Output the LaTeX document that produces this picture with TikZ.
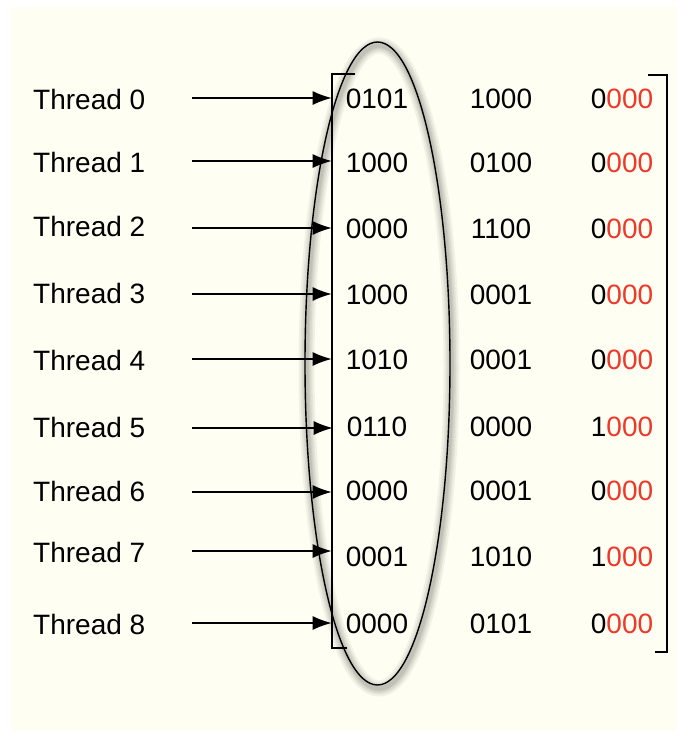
\documentclass[tikz,border=0pt]{standalone}
\usepackage{fontspec}
\setmainfont{Liberation Sans}
\usetikzlibrary{arrows.meta}
\definecolor{paper}{RGB}{254,254,242}
\definecolor{lowbits}{RGB}{238,56,42}
\begin{document}
\begin{tikzpicture}[
      x=1pt,y=-1pt,
      label/.style={anchor=west,inner sep=0pt,font=\fontsize{28}{34}\selectfont},
      bits/.style={inner sep=0pt,font=\fontsize{28}{34}\selectfont},
      trans/.style={line width=1.4pt,-{Latex[length=19pt,width=14pt]},shorten >=14pt},
      bracket/.style={line width=1.5pt},
      group/.style={line width=1.4pt},
      glow/.style={draw=black,opacity=0.05,line cap=round}
    ]
    \useasboundingbox (0,0) rectangle (678,731);
    % Draw the paper.
    \fill[paper] (11,7) rectangle (678,731);
    % Soft shadow of the selected column.
    \foreach \w in {16,12,9,6,4}
      \draw[glow,line width=\w pt] (379,367) ellipse [x radius=72.5,y radius=321.5];
    % Draw the threads and their words.
    \foreach \i/\ty/\sy/\ny/\a/\b/\c in {
        0/99/98/99/0101/1000/0,
        1/162/161/163/1000/0100/0,
        2/226/228/229/0000/1100/0,
        3/293/294/295/1000/0001/0,
        4/360/359/360/1010/0001/0,
        5/427/428/427/0110/0000/1,
        6/491/492/491/0000/0001/0,
        7/552/551/557/0001/1010/1,
        8/624/623/624/0000/0101/0}{
      \node[label] (t\i) at (33,\ty) {Thread \i};
      \node[bits] (a\i) at (377,\ny) {\a};
      \node[bits] (b\i) at (501,\ny) {\b};
      \node[bits] (c\i) at (622,\ny) {\c\textcolor{lowbits}{000}};
      \coordinate (s\i) at (192,\sy);
      \draw[trans] (s\i) -- (a\i.west |- s\i);
    }
    % Draw the brackets.
    \draw[bracket] (355,74) -- (332,74) -- (332,648) -- (347,648);
    \draw[bracket] (648,75) -- (667,75) -- (667,652) -- (655,652);
    % Draw the selected column.
    \draw[group] (377.5,363.5) ellipse [x radius=72.5,y radius=321.5];
    \end{tikzpicture}
\end{document}
